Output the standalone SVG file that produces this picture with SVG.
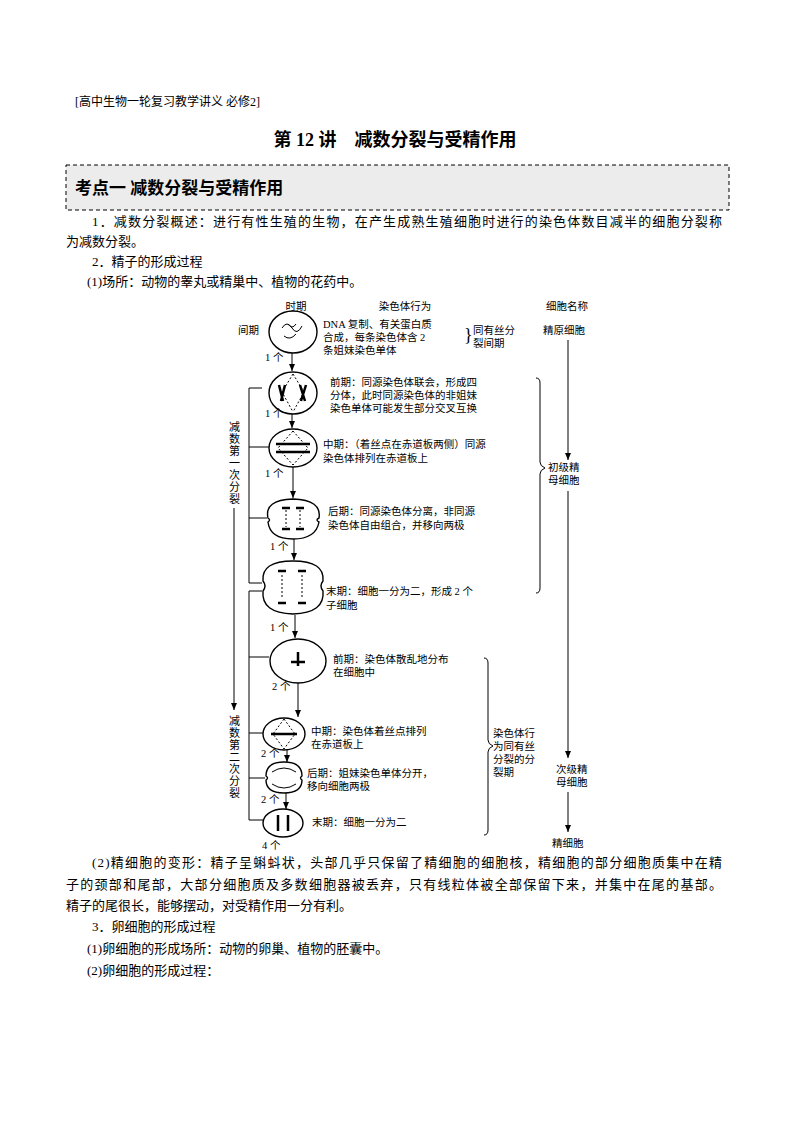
<svg xmlns="http://www.w3.org/2000/svg" width="794" height="1123" viewBox="0 0 794 1123">
<style>
text{font-family:"Liberation Serif","Noto Sans CJK SC",serif;fill:#000}
.b{font-size:13px}
.d{font-size:10.5px}
.cell{fill:#fff;stroke:#000;stroke-width:1.4}
.ln{stroke:#000;stroke-width:1;fill:none}
.ch{stroke:#000;stroke-width:2.5;fill:none}
</style>
<defs><marker id="a" markerWidth="8" markerHeight="8" refX="7" refY="4" orient="auto" markerUnits="userSpaceOnUse"><path d="M0,1 L7,4 L0,7 Z" fill="#000"/></marker></defs>
<rect width="794" height="1123" fill="#fff"/>
<text x="75" y="106" style="font-size:12px">[高中生物一轮复习教学讲义 必修2]</text>
<text x="395" y="146" text-anchor="middle" style="font-size:18px;font-weight:bold">第 12 讲　减数分裂与受精作用</text>
<rect x="66" y="165" width="663" height="45" fill="#ececec" stroke="#000" stroke-dasharray="4,3"/>
<text x="75" y="194" style="font-size:17px;font-weight:bold">考点一 减数分裂与受精作用</text>
<text x="92" y="226" class="b" textLength="630" lengthAdjust="spacing">1．减数分裂概述：进行有性生殖的生物，在产生成熟生殖细胞时进行的染色体数目减半的细胞分裂称</text>
<text x="66" y="246" class="b">为减数分裂。</text>
<text x="92" y="266" class="b">2．精子的形成过程</text>
<text x="87" y="286" class="b">(1)场所：动物的睾丸或精巢中、植物的花药中。</text>
<g id="headers" class="d">
<text x="296" y="310" text-anchor="middle" class="d">时期</text>
<text x="405" y="310" text-anchor="middle" class="d">染色体行为</text>
<text x="567" y="310" text-anchor="middle" class="d">细胞名称</text>
</g>
<g id="cells">
<g id="interphase"><text x="238" y="334" class="d">间期</text><ellipse class="cell" cx="293" cy="332" rx="24" ry="21"/><path class="ln" d="M282,328 q5,-8 10,0 q5,8 10,-2 M284,336 q6,5 12,-2 M288,324 q4,6 8,0" stroke-width="1.5"/></g>
<g id="pro1"><ellipse class="cell" cx="293" cy="393" rx="24" ry="21"/><path class="ch" d="M279,385 l4,16 M285,385 l-4,16 M300,385 l5,16 M306,385 l-5,16"/><path class="ln" stroke-dasharray="2,2" d="M293,374 L282,392 L293,412 M293,374 L304,392 L293,412"/></g>
<g id="meta1"><ellipse class="cell" cx="293" cy="448" rx="24" ry="19"/><path class="ch" d="M276,444 h34 M276,452 h34"/><path class="ln" stroke-dasharray="2,2" d="M293,431 L278,448 L293,465 M293,431 L308,448 L293,465"/></g>
<g id="ana1"><path class="cell" d="M268,518 q-4,-18 25,-19 q29,1 26,19 q-4,2 0,4 q-3,17 -26,17 q-23,0 -25,-17 q3,-2 0,-4z"/><path class="ch" d="M282,508 h8 M296,508 h8 M282,529 h8 M296,529 h8"/><path class="ln" stroke-dasharray="2,2" d="M286,510 v17 M300,510 v17"/></g>
<g id="telo1"><path class="cell" d="M293,561 q-32,0 -30,20 q4,5 0,10 q-2,22 30,23 q32,-1 30,-23 q-4,-5 0,-10 q2,-20 -30,-20z"/><path class="ch" d="M278,571 h8 M298,571 h8 M278,603 h8 M298,603 h8"/><path class="ln" stroke-dasharray="2,2" d="M282,575 v24 M302,575 v24"/></g>
<g id="pro2"><ellipse class="cell" cx="298" cy="661" rx="28" ry="22"/><path class="ch" d="M298,652 v14 M291,662 h14"/></g>
<g id="meta2"><ellipse class="cell" cx="284" cy="734" rx="21" ry="16"/><path class="ch" d="M271,734 h26"/><path class="ln" stroke-dasharray="2,2" d="M284,719 L273,734 L284,749 M284,719 L295,734 L284,749"/></g>
<g id="ana2"><path class="cell" d="M266,776 q0,-14 18,-14 q18,0 18,14 q-3,2 0,4 q0,13 -18,13 q-18,0 -18,-13 q3,-2 0,-4z"/><path class="ln" stroke-width="1.8" d="M272,772 q12,-8 24,0 M272,784 q12,8 24,0"/></g>
<g id="telo2"><ellipse class="cell" cx="283" cy="823" rx="20" ry="14"/><path class="ch" d="M278,815 v16 M288,815 v16" stroke-width="3"/></g>
</g>
<g id="texts" class="d">
<text x="323" y="328" class="d">DNA 复制、有关蛋白质</text>
<text x="323" y="341" class="d">合成，每条染色体含 2</text>
<text x="323" y="354" class="d">条姐妹染色单体</text>
<text x="464" y="341" style="font-size:18px">}</text>
<text x="473" y="334" class="d">同有丝分</text>
<text x="473" y="347" class="d">裂间期</text>
<text x="330" y="386" class="d">前期：同源染色体联会，形成四</text>
<text x="330" y="399" class="d">分体，此时同源染色体的非姐妹</text>
<text x="330" y="412" class="d">染色单体可能发生部分交叉互换</text>
<text x="323" y="448" class="d">中期：（着丝点在赤道板两侧）同源</text>
<text x="323" y="462" class="d">染色体排列在赤道板上</text>
<text x="328" y="515" class="d">后期：同源染色体分离，非同源</text>
<text x="328" y="529" class="d">染色体自由组合，并移向两极</text>
<text x="326" y="595" class="d">末期：细胞一分为二，形成 2 个</text>
<text x="326" y="609" class="d">子细胞</text>
<text x="333" y="663" class="d">前期：染色体散乱地分布</text>
<text x="333" y="676" class="d">在细胞中</text>
<text x="311" y="735" class="d">中期：染色体着丝点排列</text>
<text x="311" y="748" class="d">在赤道板上</text>
<text x="307" y="777" class="d">后期：姐妹染色单体分开，</text>
<text x="307" y="790" class="d">移向细胞两极</text>
<text x="312" y="826" class="d">末期：细胞一分为二</text>
<text x="265" y="361" class="d">1 个</text>
<text x="265" y="417" class="d">1 个</text>
<text x="265" y="477" class="d">1 个</text>
<text x="270" y="550" class="d">1 个</text>
<text x="270" y="631" class="d">1 个</text>
<text x="272" y="690" class="d">2 个</text>
<text x="261" y="757" class="d">2 个</text>
<text x="261" y="803" class="d">2 个</text>
<text x="262" y="849" class="d">4 个</text>
<g style="font-size:11px">
<text x="229" y="431">减</text><text x="229" y="443">数</text><text x="229" y="455">第</text><text x="229" y="467">一</text><text x="229" y="479">次</text><text x="229" y="491">分</text><text x="229" y="503">裂</text>
<text x="229" y="725">减</text><text x="229" y="737">数</text><text x="229" y="749">第</text><text x="229" y="761">二</text><text x="229" y="773">次</text><text x="229" y="785">分</text><text x="229" y="797">裂</text>
</g>
<text x="548" y="471" class="d">初级精</text><text x="548" y="484" class="d">母细胞</text>
<text x="493" y="737" class="d">染色体行</text><text x="493" y="750" class="d">为同有丝</text><text x="493" y="763" class="d">分裂的分</text><text x="493" y="776" class="d">裂期</text>
<text x="556" y="773" class="d">次级精</text><text x="556" y="786" class="d">母细胞</text>
<text x="543" y="334" class="d">精原细胞</text>
<text x="552" y="847" class="d">精细胞</text>
</g>
<g id="connectors" class="ln">
<path marker-end="url(#a)" d="M292,353 V371"/>
<path marker-end="url(#a)" d="M292,414 V428"/>
<path marker-end="url(#a)" d="M293,467 V498"/>
<path marker-end="url(#a)" d="M294,539 V560"/>
<path marker-end="url(#a)" d="M295,615 V638"/>
<path marker-end="url(#a)" d="M298,683 V717"/>
<path marker-end="url(#a)" d="M287,750 V762"/>
<path marker-end="url(#a)" d="M286,793 V809"/>
<path d="M262,388 H249 V583 H262 M249,447 H269 M249,518 H267"/>
<path d="M262,591 H249 V820 H263 M249,657 H269 M249,733 H263 M249,778 H265"/>
<path marker-end="url(#a)" d="M234,508 V710"/>
<path d="M536,378 q4,0 4,5 V462 q0,4 5,6 q-5,2 -5,6 V588 q0,5 -4,5"/>
<path d="M484,658 q4,0 4,5 V740 q0,4 5,6 q-5,2 -5,6 V830 q0,5 -4,5"/>
<path marker-end="url(#a)" d="M568,340 V460"/>
<path marker-end="url(#a)" d="M568,491 V758"/>
<path marker-end="url(#a)" d="M568,792 V832"/>
</g>
<text x="92" y="867" class="b" textLength="630" lengthAdjust="spacing">(2)精细胞的变形：精子呈蝌蚪状，头部几乎只保留了精细胞的细胞核，精细胞的部分细胞质集中在精</text>
<text x="66" y="889" class="b" textLength="656" lengthAdjust="spacing">子的颈部和尾部，大部分细胞质及多数细胞器被丢弃，只有线粒体被全部保留下来，并集中在尾的基部。</text>
<text x="66" y="910" class="b">精子的尾很长，能够摆动，对受精作用一分有利。</text>
<text x="92" y="931" class="b">3．卵细胞的形成过程</text>
<text x="87" y="953" class="b">(1)卵细胞的形成场所：动物的卵巢、植物的胚囊中。</text>
<text x="87" y="975" class="b">(2)卵细胞的形成过程：</text>
</svg>
